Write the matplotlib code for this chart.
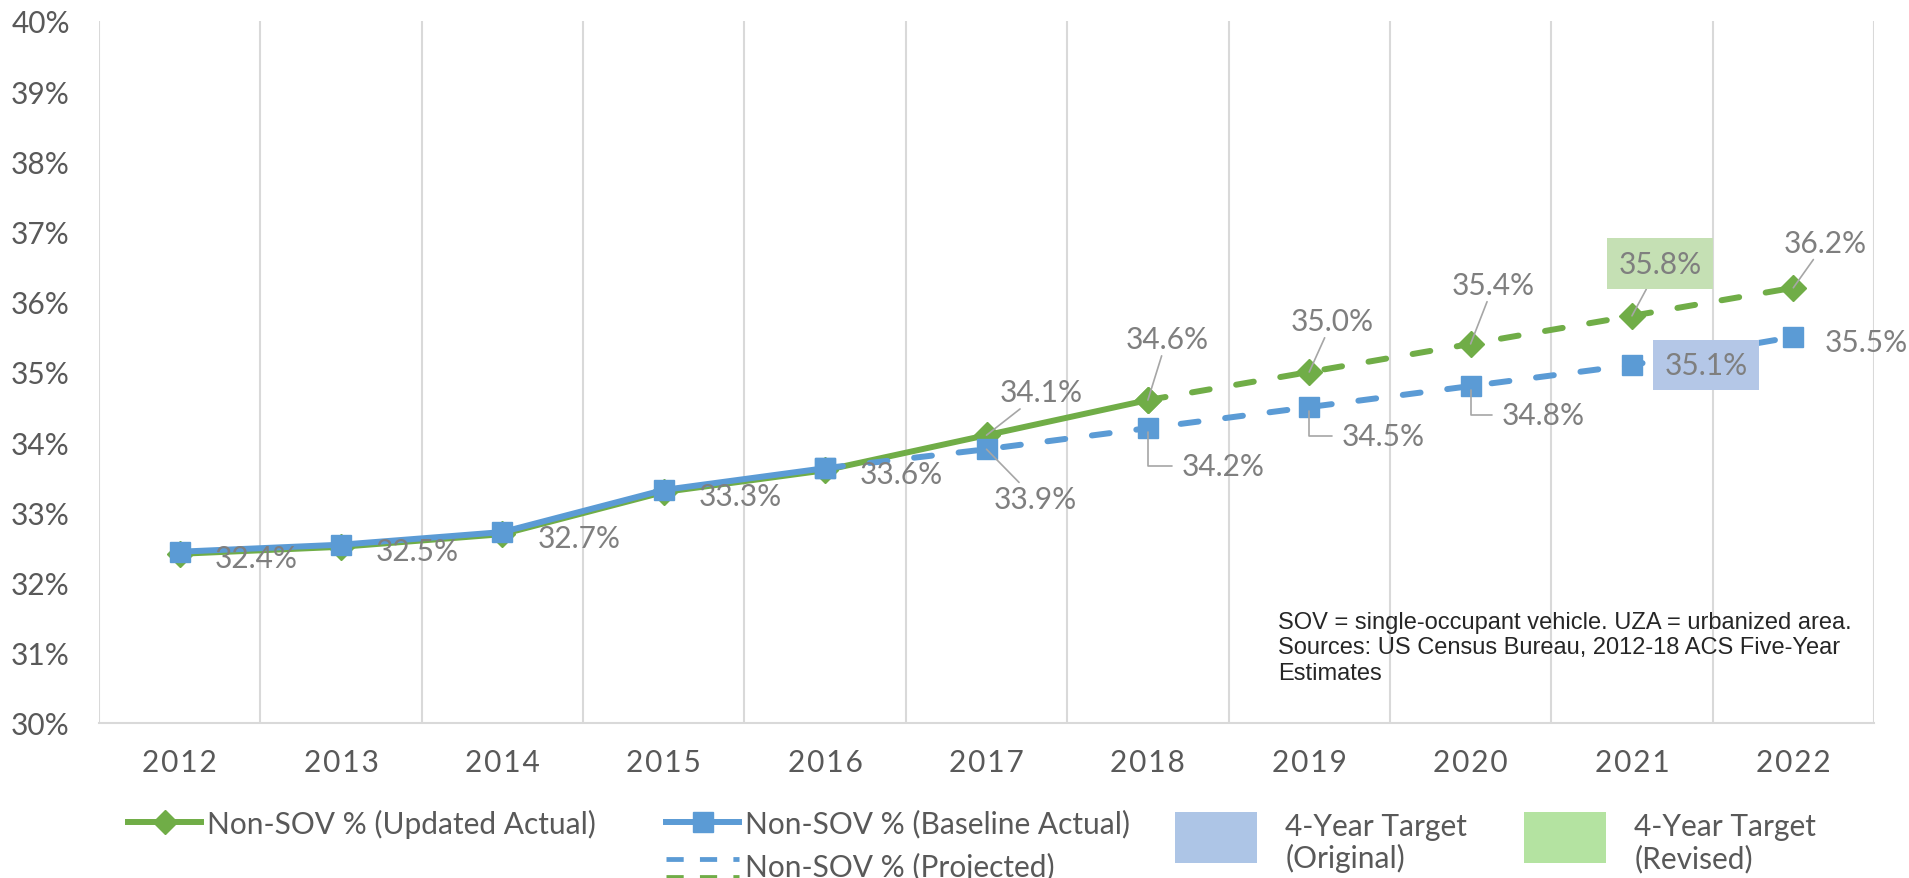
import numpy as np
import matplotlib
matplotlib.use('Agg')
import matplotlib.pyplot as plt
from matplotlib.lines import Line2D
from matplotlib.patches import Patch, Rectangle
from matplotlib.legend_handler import HandlerBase

#%% Data

years            = ['2012', '2013', '2014', '2015', '2016', '2017',
                    '2018', '2019', '2020', '2021', '2022']

# Non-SOV share (%), updated actual 2012-2018 and projection 2018-2022
updated_actual   = [32.41, 32.51, 32.69, 33.29, 33.60, 34.10, 34.60]
updated_proj     = [34.60, 35.00, 35.40, 35.80, 36.20]

# baseline actual 2012-2016 and projection 2016-2022
baseline_actual  = [32.44, 32.54, 32.72, 33.32, 33.63]
baseline_proj    = [33.63, 33.90, 34.20, 34.50, 34.80, 35.10, 35.50]

y_ticks          = [30, 31, 32, 33, 34, 35, 36, 37, 38, 39, 40]

legend_labels    = ['Non-SOV % (Updated Actual)', 'Non-SOV % (Baseline Actual)',
                    'Non-SOV % (Projected)', '4-Year Target\n(Original)',
                    '4-Year Target\n(Revised)']

note = ('SOV = single-occupant vehicle. UZA = urbanized area.\n'
        'Sources: US Census Bureau, 2012-18 ACS Five-Year\n'
        'Estimates')

#%% Style

GREEN      = '#70ad47'
BLUE       = '#5b9bd5'
GREEN_BOX  = '#c5e0b4'
BLUE_BOX   = '#b4c7e7'
GREEN_LEG  = '#b4e3a1'
BLUE_LEG   = '#adc5e6'
GRID       = '#d9d9d9'
LABEL_COL  = '#7f7f7f'
TICK_COL   = '#595959'
LEADER     = '#a6a6a6'

W, H       = 1909, 879
FONT       = ['Lato', 'DejaVu Sans']
FS         = 21.5
LW         = 4.3
DASH       = (0, (3.0, 4.5))
PX         = 0.72   # points per pixel at dpi 100

plt.rcParams['font.family'] = FONT

# label placement, offsets in pixels (dx right, dy down) from the point
# kind: 'right' = left aligned next to point, 'line' = leader line,
# 'elbow' = angled leader, 'box' = filled box
upd_layout = {0: (35, 4, 'right'), 1: (35, 4, 'right'), 2: (35, 4, 'right'),
              3: (35, 4, 'right'), 4: (35, 4, 'right'),
              5: (55, -43, 'line'), 6: (19, -61, 'line'), 7: (23, -51, 'line'),
              8: (23, -59, 'line'), 9: (28, -52, 'box'), 10: (32, -45, 'line')}
base_layout = {5: (49, 50, 'line'), 6: (75, 38, 'elbow'), 7: (74, 29, 'elbow'),
               8: (73, 29, 'elbow'), 9: (74, 0, 'box'), 10: (31, 5, 'right')}

#%% Plot

fig = plt.figure(figsize=(W / 100, H / 100), dpi=100)
ax = fig.add_axes([99 / W, 1 - 724 / H, (1874 - 99) / W, (724 - 22) / H])

x = np.arange(len(years))
updated_all  = updated_actual + updated_proj[1:]
baseline_all = baseline_actual + baseline_proj[1:]

ax.plot(x[6:], updated_proj, color=GREEN, lw=LW, ls=DASH, dash_capstyle='round',
        marker='D', ms=13, mec=GREEN, mfc=GREEN, zorder=3)
ax.plot(x[:7], updated_actual, color=GREEN, lw=LW, solid_capstyle='round',
        marker='D', ms=13, mec=GREEN, mfc=GREEN, zorder=3)
ax.plot(x[4:], baseline_proj, color=BLUE, lw=LW, ls=DASH, dash_capstyle='round',
        marker='s', ms=14.5, mec=BLUE, mfc=BLUE, zorder=4)
ax.plot(x[:5], baseline_actual, color=BLUE, lw=LW, solid_capstyle='round',
        marker='s', ms=14.5, mec=BLUE, mfc=BLUE, zorder=4)

ax.set_xlim(-0.5, len(years) - 0.5)
ax.set_ylim(y_ticks[0], y_ticks[-1])
ax.set_yticks(y_ticks)
ax.set_yticklabels(['%d%%' % v for v in y_ticks])
ax.set_xticks(x)
ax.set_xticklabels(['\u200a'.join(y) for y in years])
ax.set_xticks(np.arange(-0.5, len(years)), minor=True)
ax.grid(axis='x', which='minor', color=GRID, lw=1.5)
ax.tick_params(axis='both', which='both', length=0, labelsize=FS, colors=TICK_COL)
ax.tick_params(axis='y', pad=21)
ax.tick_params(axis='x', pad=18)
for s in ['top', 'left', 'right']:
    ax.spines[s].set_visible(False)
ax.spines['bottom'].set_color(GRID)
ax.spines['bottom'].set_linewidth(1.5)
ax.spines['bottom'].set_zorder(1)


def add_labels(values, layout, box_col):
    for i, (dx, dy, kind) in layout.items():
        txt = '%.1f%%' % values[i]
        kw = dict(xy=(x[i], values[i]), xytext=(dx * PX, -dy * PX),
                  textcoords='offset points', fontsize=FS, color=LABEL_COL,
                  va='center', ha='center', zorder=6)
        if kind == 'right':
            kw['ha'] = 'left'
        elif kind == 'line':
            kw['arrowprops'] = dict(arrowstyle='-', color=LEADER, lw=1.2,
                                    shrinkA=0, shrinkB=0)
        elif kind == 'elbow':
            kw['arrowprops'] = dict(arrowstyle='-', color=LEADER, lw=1.2,
                                    shrinkA=5, shrinkB=3, relpos=(0, 0.5),
                                    connectionstyle='angle,angleA=0,angleB=90,rad=0')
        elif kind == 'box':
            kw['bbox'] = dict(boxstyle='square,pad=0.38', fc=box_col, ec='none')
            if dy != 0:
                kw['arrowprops'] = dict(arrowstyle='-', color=LEADER, lw=1.2,
                                        shrinkA=0, shrinkB=0)
        ax.annotate(txt, **kw)


add_labels(updated_all, upd_layout, GREEN_BOX)
add_labels(baseline_all, base_layout, BLUE_BOX)

# note
fig.text(1278 / W, 1 - 612 / H, note, ha='left', va='top', fontsize=17,
         family='Liberation Sans', color='#262626', linespacing=1.2)

#%% Legend


class HandlerStacked(HandlerBase):
    def create_artists(self, legend, orig_handle, xdescent, ydescent,
                       width, height, fontsize, trans):
        arts = []
        for frac, col in [(0.8, BLUE), (-0.05, GREEN)]:
            yy = -ydescent + frac * height
            arts.append(Line2D([-xdescent, -xdescent + width], [yy, yy], color=col,
                               lw=LW * 0.8, ls=(0, (3.6, 3.4)), transform=trans))
        return arts


class HandlerRaisedPatch(HandlerBase):
    def create_artists(self, legend, orig_handle, xdescent, ydescent,
                       width, height, fontsize, trans):
        r = Rectangle((-xdescent, -ydescent + 5), width, height,
                      fc=orig_handle.get_facecolor(), ec='none', transform=trans)
        return [r]


h_upd  = Line2D([], [], color=GREEN, lw=LW, marker='D', ms=12, mec=GREEN)
h_base = Line2D([], [], color=BLUE, lw=LW, marker='s', ms=14, mec=BLUE)
h_proj = Line2D([], [])
h_orig = Patch(fc=BLUE_LEG, ec='none')
h_rev  = Patch(fc=GREEN_LEG, ec='none')

leg_items = [(h_upd, legend_labels[0], 128, 824, {}),
             (h_base, legend_labels[1], 666, 824, {}),
             (h_proj, legend_labels[2], 666, 867, {'handler_map': {h_proj: HandlerStacked()}}),
             (h_orig, legend_labels[3], 1175, 843,
              {'handleheight': 2.25, 'handler_map': {h_orig: HandlerRaisedPatch()}}),
             (h_rev, legend_labels[4], 1524, 843,
              {'handleheight': 2.25, 'handler_map': {h_rev: HandlerRaisedPatch()}})]

for h, lab, px, py, extra in leg_items:
    hl = 2.75 if isinstance(h, Patch) else 2.45
    tp = 0.95 if isinstance(h, Patch) else 0.2
    leg = fig.legend([h], [lab], loc='center left', bbox_to_anchor=(px / W, 1 - py / H),
                     frameon=False, borderpad=0, borderaxespad=0, handlelength=hl,
                     handletextpad=tp, fontsize=FS, labelcolor=TICK_COL, **extra)
    leg.get_texts()[0].set_linespacing(1.15)

fig.savefig('out.png', dpi=100)
